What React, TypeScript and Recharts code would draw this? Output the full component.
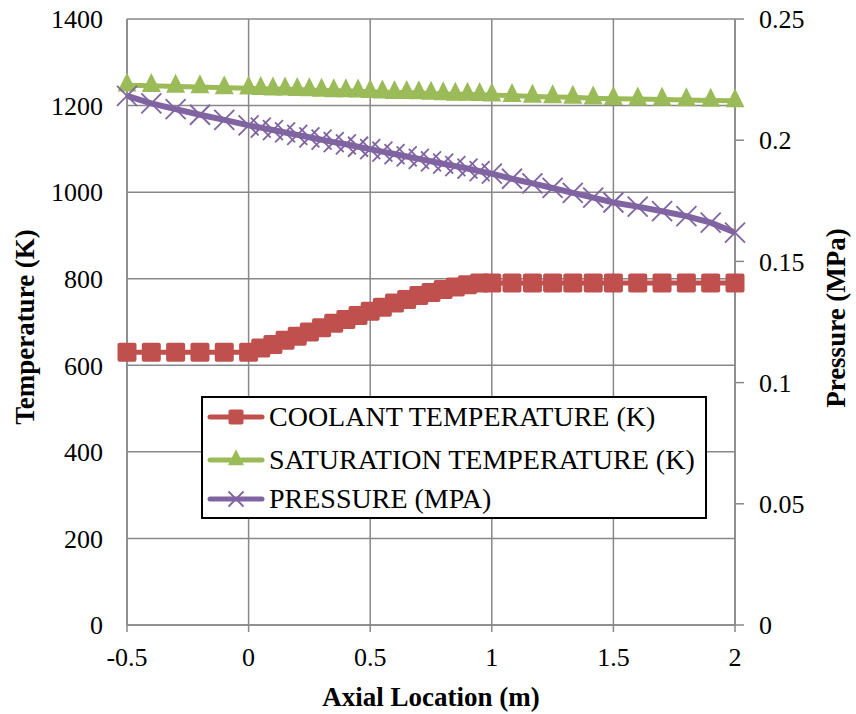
import { LineChart, Line, XAxis, YAxis, CartesianGrid, Legend } from 'recharts';

// axial positions (m)
const xs = [
  -0.5, -0.4, -0.3, -0.2, -0.1, 0,
  0.05, 0.1, 0.15, 0.2, 0.25, 0.3, 0.35, 0.4, 0.45, 0.5,
  0.55, 0.6, 0.65, 0.7, 0.75, 0.8, 0.85, 0.9, 0.95, 1,
  1.083, 1.167, 1.25, 1.333, 1.417, 1.5,
  1.6, 1.7, 1.8, 1.9, 2,
];

const coolant = [
  630, 630, 630, 630, 630, 630,
  640, 648, 658, 667, 677, 687, 697, 706, 715, 725,
  734, 744, 752, 761, 768, 775, 781, 786, 790, 790,
  790, 790, 790, 790, 790, 790,
  790, 790, 790, 790, 790,
];

const saturation = [
  1247, 1246, 1244, 1243, 1241, 1240,
  1239, 1238, 1238, 1237, 1236, 1235, 1234, 1234, 1233, 1232,
  1231, 1230, 1230, 1229, 1228, 1227, 1226, 1226, 1225, 1224,
  1223, 1221, 1220, 1219, 1217, 1216,
  1215, 1214, 1213, 1212, 1211,
];

const pressure = [
  0.2183, 0.2152, 0.2128, 0.2105, 0.2084, 0.2061,
  0.2052, 0.2042, 0.2032, 0.2022, 0.2012, 0.2002, 0.1992, 0.1983, 0.1973, 0.1963,
  0.1953, 0.1943, 0.1933, 0.1923, 0.1913, 0.1903, 0.1893, 0.1883, 0.1872, 0.1862,
  0.1841, 0.1822, 0.1803, 0.1783, 0.1763, 0.1743,
  0.1726, 0.1707, 0.1687, 0.1660, 0.1619,
];

const xTicks = [-0.5, 0, 0.5, 1, 1.5, 2];
const tempTicks = [0, 200, 400, 600, 800, 1000, 1200, 1400];
const pressTicks = [0, 0.05, 0.1, 0.15, 0.2, 0.25];

const RED = '#C0504D';
const GREEN = '#9BBB59';
const PURPLE = '#8064A2';
const GRID = '#888888';
const FONT = '"Liberation Serif", "Times New Roman", serif';

const data = xs.map((x, i) => ({
  x,
  coolant: coolant[i],
  saturation: saturation[i],
  pressure: pressure[i],
}));

const SquareDot = (props: any) => {
  const { cx, cy, index, size = 19 } = props;
  if (cx == null || cy == null) return null;
  return <rect key={index} x={cx - size / 2} y={cy - size / 2} width={size} height={size} rx={2} fill={RED} />;
};

const TriangleDot = (props: any) => {
  const { cx, cy, index, size = 19 } = props;
  if (cx == null || cy == null) return null;
  const h = size;
  const pts = `${cx},${cy - (h * 2) / 3} ${cx - size / 2},${cy + h / 3} ${cx + size / 2},${cy + h / 3}`;
  return <polygon key={index} points={pts} fill={GREEN} />;
};

const CrossDot = (props: any) => {
  const { cx, cy, index, size = 20 } = props;
  if (cx == null || cy == null) return null;
  const r = size / 2;
  return (
    <g key={index} stroke={PURPLE} strokeWidth={1.8}>
      <line x1={cx - r} y1={cy - r} x2={cx + r} y2={cy + r} />
      <line x1={cx - r} y1={cy + r} x2={cx + r} y2={cy - r} />
    </g>
  );
};

const legendItems = [
  { name: 'COOLANT TEMPERATURE (K)', color: RED, Dot: SquareDot, size: 15, top: 21 },
  { name: 'SATURATION TEMPERATURE (K)', color: GREEN, Dot: TriangleDot, size: 16, top: 64 },
  { name: 'PRESSURE (MPA)', color: PURPLE, Dot: CrossDot, size: 15, top: 103 },
];

const renderLegend = () => (
  <div
    style={{
      position: 'relative',
      width: 506,
      height: 123,
      boxSizing: 'border-box',
      border: '2px solid #000',
      background: '#fff',
      fontFamily: FONT,
      fontSize: 28,
      color: '#000',
    }}
  >
    {legendItems.map((it) => (
      <div key={it.name} style={{ position: 'absolute', left: 0, top: it.top - 2 - 20, height: 40, display: 'flex', alignItems: 'center', whiteSpace: 'nowrap' }}>
        <svg width={66} height={40} style={{ display: 'block' }}>
          <line x1={7} y1={20} x2={59} y2={20} stroke={it.color} strokeWidth={5} strokeLinecap="round" />
          <it.Dot cx={33} cy={20} size={it.size} />
        </svg>
        <span style={{ lineHeight: '40px' }}>{it.name}</span>
      </div>
    ))}
  </div>
);

const tickStyle = { fill: '#000', fontSize: 26, fontFamily: FONT };
const titleStyle = { fill: '#000', fontSize: 27, fontFamily: FONT, fontWeight: 700 };

export default function App() {
  return (
    <div style={{ position: 'absolute', left: 0, top: 0, width: 856, height: 714, background: '#fff' }}>
      <LineChart width={856} height={714} data={data} margin={{ top: 19, right: 0, bottom: 0, left: 0 }}>
        <CartesianGrid yAxisId="left" stroke={GRID} strokeWidth={1.5} verticalPoints={undefined} />
        <XAxis
          dataKey="x"
          type="number"
          domain={[-0.5, 2]}
          ticks={xTicks}
          height={89}
          tick={tickStyle}
          tickSize={7}
          tickMargin={16}
          axisLine={{ stroke: GRID, strokeWidth: 1.5 }}
          tickLine={{ stroke: GRID, strokeWidth: 1.5 }}
          label={{
            content: () => (
              <text x={431} y={706} textAnchor="middle" style={titleStyle}>
                Axial Location (m)
              </text>
            ),
          }}
        />
        <YAxis
          yAxisId="left"
          domain={[0, 1400]}
          ticks={tempTicks}
          width={127}
          tick={tickStyle}
          tickSize={0}
          tickMargin={24}
          tickLine={false}
          axisLine={{ stroke: GRID, strokeWidth: 1.5 }}
          label={{
            content: () => (
              <text x={25} y={327} textAnchor="middle" dominantBaseline="central" transform="rotate(-90 25 327)" style={titleStyle}>
                Temperature (K)
              </text>
            ),
          }}
        />
        <YAxis
          yAxisId="right"
          orientation="right"
          domain={[0, 0.25]}
          ticks={pressTicks}
          width={121}
          tick={tickStyle}
          tickSize={9}
          tickMargin={15}
          axisLine={{ stroke: GRID, strokeWidth: 1.5 }}
          tickLine={{ stroke: GRID, strokeWidth: 1.5 }}
          label={{
            content: () => (
              <text x={836} y={318} textAnchor="middle" dominantBaseline="central" transform="rotate(-90 836 318)" style={titleStyle}>
                Pressure (MPa)
              </text>
            ),
          }}
        />
        <Line
          yAxisId="left"
          dataKey="coolant"
          name="COOLANT TEMPERATURE (K)"
          stroke={RED}
          strokeWidth={5}
          dot={<SquareDot />}
          activeDot={false}
          isAnimationActive={false}
        />
        <Line
          yAxisId="left"
          dataKey="saturation"
          name="SATURATION TEMPERATURE (K)"
          stroke={GREEN}
          strokeWidth={5}
          dot={<TriangleDot />}
          activeDot={false}
          isAnimationActive={false}
        />
        <Line
          yAxisId="right"
          dataKey="pressure"
          name="PRESSURE (MPA)"
          stroke={PURPLE}
          strokeWidth={6}
          dot={<CrossDot />}
          activeDot={false}
          isAnimationActive={false}
        />
        <Legend
          layout="vertical"
          align="center"
          verticalAlign="middle"
          content={renderLegend}
          wrapperStyle={{ left: 201, top: 396, width: 506, height: 123 }}
        />
      </LineChart>
    </div>
  );
}
